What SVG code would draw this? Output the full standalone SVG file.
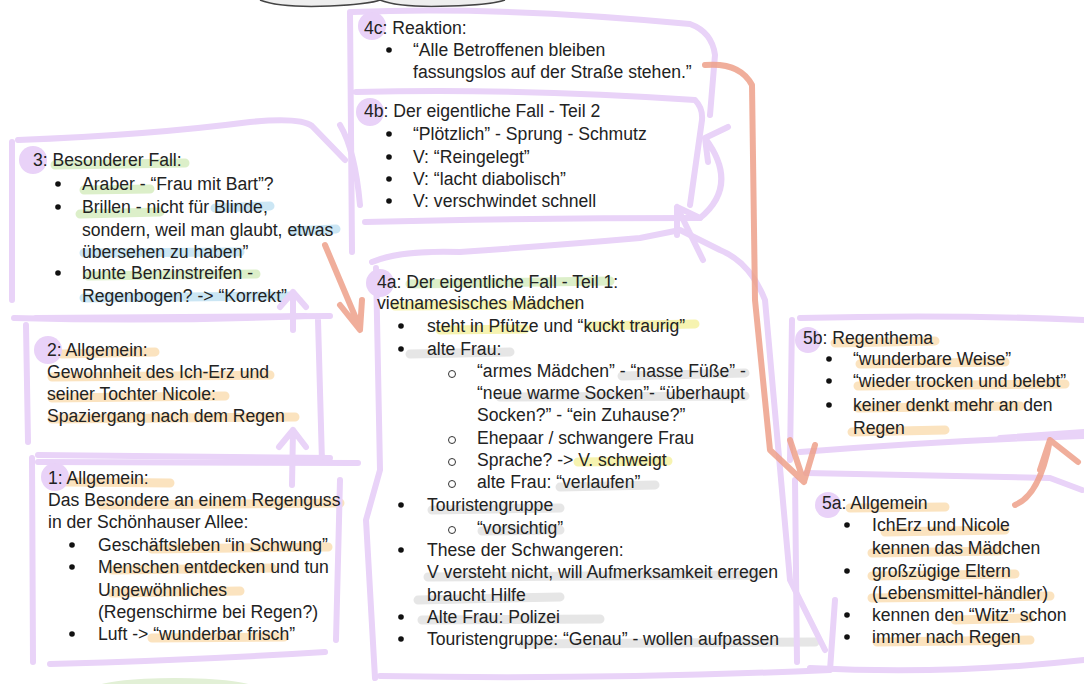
<svg xmlns="http://www.w3.org/2000/svg" width="1084" height="684" viewBox="0 0 1084 684">
<style>
.bx{fill:none;stroke:#e9d3f8;stroke-width:6;stroke-linecap:round;stroke-linejoin:round}
.pa{fill:none;stroke:#e9d3f8;stroke-width:6;stroke-linecap:round;stroke-linejoin:round}
.oa{fill:none;stroke:#eda08a;stroke-width:6;stroke-linecap:round;stroke-linejoin:round;opacity:0.85}
.num{fill:#e9d2f8}
.hg,.hb,.hy,.ho,.hr{fill:none;stroke-width:9;stroke-linecap:round}
.hg{stroke:#dcefc9}.hb{stroke:#cbe6f4}.hy{stroke:#f6f3b0}.ho{stroke:#fbe3bf}.hr{stroke:#e6e6e6}
text{font-family:"Liberation Sans",Arial,sans-serif;font-size:17.6px;fill:#222}
.b{fill:#111}
.s{fill:none;stroke:#333;stroke-width:1}
</style>
<rect width="1084" height="684" fill="#fff"/>
<path d="M260,0 Q280,8 330,6 Q370,4 380,0 M380,0 Q400,8 450,6 Q490,5 505,0" fill="#eee" stroke="#444" stroke-width="1.5"/>
<ellipse cx="175" cy="688" rx="80" ry="10" fill="#e2f0d6"/>

<g id="highlights">
<path class="hg" d="M55,165 L185,163 M84,190 L150,189 M80,214 L160,212 M88,276 L256,274"/>
<path class="hb" d="M215,208 L270,206 M292,231 L336,229 M84,253 L240,252 M84,298 L288,296"/>
<path class="ho" d="M62,354 L155,352 M52,377 L270,375 M52,398 L225,396 M52,419 L295,417"/>
<path class="ho" d="M67,482 L170,483 M102,505 L340,503 M152,549 L328,547 M112,570 L272,568 M112,593 L240,591 M152,638 L284,637"/>
<path class="hg" d="M410,284 L610,281"/>
<path class="hy" d="M395,306 L575,305 M440,330 L525,329 M590,326 L695,324 M578,462 L668,461"/>
<path class="hr" d="M410,354 L510,352 M622,376 L745,373 M500,397 L745,396 M560,487 L655,485 M432,510 L560,508 M482,531 L560,530 M428,577 L760,575 M418,600 L560,597 M422,620 L600,619 M522,644 L815,642"/>
<path class="ho" d="M835,343 L935,341 M860,364 L1005,362 M858,386 L1065,384 M858,408 L1020,406 M852,432 L945,430 M850,508 L945,507 M885,532 L1005,530 M872,553 L1000,551 M872,576 L1015,574 M872,598 L1050,596 M955,620 L1030,618 M877,642 L1030,640"/>
</g>

<g id="boxes">
<path class="bx" d="M18,140 Q150,135 250,122 Q300,117 312,126 L345,160 M12,142 L12,300 M14,318 Q160,322 305,316 M340,125 Q355,150 360,205"/>
<path class="bx" d="M36,318 L330,316 M26,325 L28,442 M318,320 L322,462 M38,455 L330,458"/>
<path class="bx" d="M38,462 L358,463 M32,458 L33,662 M340,480 L336,640 M50,664 Q200,660 325,652"/>
<path class="bx" d="M352,12 Q500,6 690,24 Q712,32 715,55 L710,115 M350,12 L352,252 M356,92 Q520,88 695,100 Q703,108 702,120 L690,205 M365,222 Q520,218 700,218"/>
<path class="bx" d="M372,262 Q400,250 460,252 Q560,245 640,238 L680,230 Q700,240 720,250 Q750,262 765,300 L790,580 L825,650 M376,268 L380,470 L366,520 L375,678 M380,676 Q600,680 830,670 L835,600"/>
<path class="bx" d="M800,318 Q950,314 1084,320 M792,320 L790,460 M800,452 Q950,440 1084,436 M1000,438 L1084,432"/>
<path class="bx" d="M806,473 Q950,476 1050,478 L1082,490 M795,480 L797,662 M810,668 Q950,675 1084,660"/>
</g>

<g id="numbers">
<circle class="num" cx="33" cy="160" r="14"/>
<circle class="num" cx="48" cy="350" r="14"/>
<circle class="num" cx="55" cy="477" r="14"/>
<circle class="num" cx="372" cy="26" r="14"/>
<circle class="num" cx="370" cy="112" r="14"/>
<circle class="num" cx="380" cy="283" r="14"/>
<circle class="num" cx="808" cy="340" r="13"/>
<circle class="num" cx="828" cy="505" r="13"/>
</g>

<g id="connectors">
<path class="pa" d="M292,485 L293,430 M279,447 L293,430 L306,447"/>
<path class="pa" d="M293,330 L293,292 M280,307 L293,292 L306,307"/>
<path class="pa" d="M703,260 L677,207 L677,235 M677,207 L700,218 Q740,185 705,138 L708,162 M705,138 L728,127"/>
<path class="oa" d="M325,245 L360,328 M340,305 L360,330 L362,300"/>
<path class="oa" d="M705,65 Q740,62 752,85 L755,300 L770,450 L804,482 M790,440 L804,482 L815,445"/>
<path class="oa" d="M1015,505 Q1040,495 1050,440 M1040,470 L1050,440 L1078,462"/>
</g>

<g id="n3">
<text x="33" y="166">3: Besonderer Fall:</text>
<circle class="b" cx="58" cy="184" r="2.8"/><text x="82" y="190">Araber - “Frau mit Bart”?</text>
<circle class="b" cx="58" cy="207" r="2.8"/><text x="82" y="213">Brillen - nicht für Blinde,</text>
<text x="82" y="236">sondern, weil man glaubt, etwas</text>
<text x="82" y="258">übersehen zu haben”</text>
<circle class="b" cx="58" cy="273" r="2.8"/><text x="82" y="279">bunte Benzinstreifen -</text>
<text x="82" y="302">Regenbogen? -&gt; “Korrekt”</text>
</g>

<g id="n2">
<text x="47" y="356">2: Allgemein:</text>
<text x="47" y="378">Gewohnheit des Ich-Erz und</text>
<text x="47" y="400">seiner Tochter Nicole:</text>
<text x="47" y="422">Spaziergang nach dem Regen</text>
</g>

<g id="n1">
<text x="48" y="484">1: Allgemein:</text>
<text x="48" y="506">Das Besondere an einem Regenguss</text>
<text x="48" y="528">in der Schönhauser Allee:</text>
<circle class="b" cx="72" cy="545" r="2.8"/><text x="98" y="551">Geschäftsleben “in Schwung”</text>
<circle class="b" cx="72" cy="567" r="2.8"/><text x="98" y="573">Menschen entdecken und tun</text>
<text x="98" y="596">Ungewöhnliches</text>
<text x="98" y="618">(Regenschirme bei Regen?)</text>
<circle class="b" cx="72" cy="634" r="2.8"/><text x="98" y="640">Luft -&gt; “wunderbar frisch”</text>
</g>

<g id="n4c">
<text x="364" y="34">4c: Reaktion:</text>
<circle class="b" cx="389" cy="50" r="2.8"/><text x="413" y="56">“Alle Betroffenen bleiben</text>
<text x="413" y="78">fassungslos auf der Straße stehen.”</text>
</g>

<g id="n4b">
<text x="364" y="117">4b: Der eigentliche Fall - Teil 2</text>
<circle class="b" cx="389" cy="134" r="2.8"/><text x="413" y="140">“Plötzlich” - Sprung - Schmutz</text>
<circle class="b" cx="389" cy="157" r="2.8"/><text x="413" y="163">V: “Reingelegt”</text>
<circle class="b" cx="389" cy="179" r="2.8"/><text x="413" y="185">V: “lacht diabolisch”</text>
<circle class="b" cx="389" cy="201" r="2.8"/><text x="413" y="207">V: verschwindet schnell</text>
</g>

<g id="n4a">
<text x="377" y="288">4a: Der eigentliche Fall - Teil 1:</text>
<text x="377" y="309">vietnamesisches Mädchen</text>
<circle class="b" cx="401" cy="326" r="2.8"/><text x="427" y="332">steht in Pfütze und “kuckt traurig”</text>
<circle class="b" cx="401" cy="349" r="2.8"/><text x="427" y="355">alte Frau:</text>
<circle class="s" cx="452" cy="374" r="3.5"/><text x="477" y="377">“armes Mädchen” - “nasse Füße” -</text>
<text x="477" y="399">“neue warme Socken”- “überhaupt</text>
<text x="477" y="421">Socken?” - “ein Zuhause?”</text>
<circle class="s" cx="452" cy="440" r="3.5"/><text x="477" y="444">Ehepaar / schwangere Frau</text>
<circle class="s" cx="452" cy="462" r="3.5"/><text x="477" y="466">Sprache? -&gt; V. schweigt</text>
<circle class="s" cx="452" cy="484" r="3.5"/><text x="477" y="488">alte Frau: “verlaufen”</text>
<circle class="b" cx="401" cy="505" r="2.8"/><text x="427" y="511">Touristengruppe</text>
<circle class="s" cx="452" cy="530" r="3.5"/><text x="477" y="534">“vorsichtig”</text>
<circle class="b" cx="401" cy="550" r="2.8"/><text x="427" y="556">These der Schwangeren:</text>
<text x="427" y="578">V versteht nicht, will Aufmerksamkeit erregen</text>
<text x="427" y="601">braucht Hilfe</text>
<circle class="b" cx="401" cy="617" r="2.8"/><text x="427" y="623">Alte Frau: Polizei</text>
<circle class="b" cx="401" cy="639" r="2.8"/><text x="427" y="645">Touristengruppe: “Genau” - wollen aufpassen</text>
</g>

<g id="n5b">
<text x="803" y="344">5b: Regenthema</text>
<circle class="b" cx="829" cy="359" r="2.8"/><text x="853" y="365">“wunderbare Weise”</text>
<circle class="b" cx="829" cy="381" r="2.8"/><text x="853" y="387">“wieder trocken und belebt”</text>
<circle class="b" cx="829" cy="405" r="2.8"/><text x="853" y="411">keiner denkt mehr an den</text>
<text x="853" y="434">Regen</text>
</g>

<g id="n5a">
<text x="822" y="509">5a: Allgemein</text>
<circle class="b" cx="847" cy="525" r="2.8"/><text x="872" y="531">IchErz und Nicole</text>
<text x="872" y="554">kennen das Mädchen</text>
<circle class="b" cx="847" cy="571" r="2.8"/><text x="872" y="577">großzügige Eltern</text>
<text x="872" y="599">(Lebensmittel-händler)</text>
<circle class="b" cx="847" cy="615" r="2.8"/><text x="872" y="621">kennen den “Witz” schon</text>
<circle class="b" cx="847" cy="637" r="2.8"/><text x="872" y="643">immer nach Regen</text>
</g>
</svg>
